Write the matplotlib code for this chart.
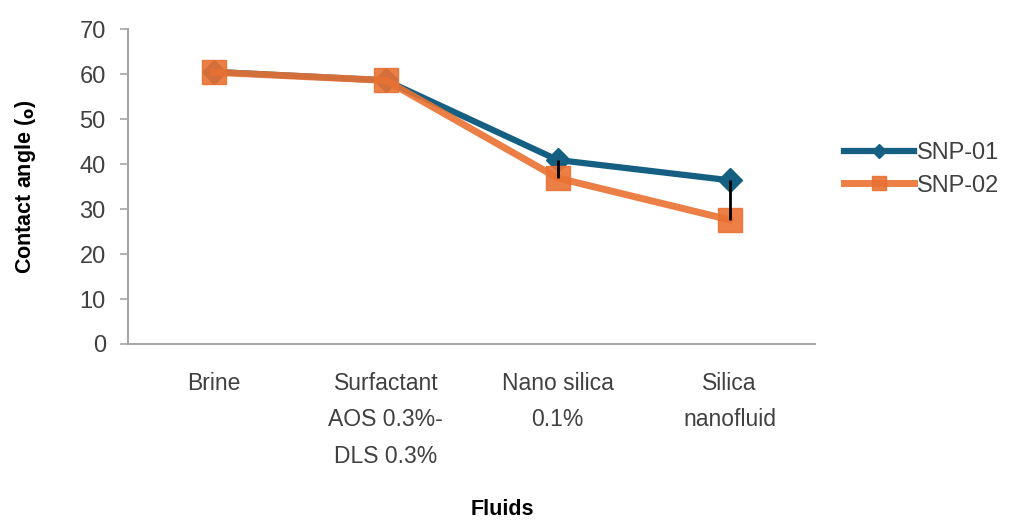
import matplotlib
matplotlib.use("Agg")
import matplotlib.pyplot as plt

# Data
fluids = ["Brine", "Surfactant\nAOS 0.3%-\nDLS 0.3%", "Nano silica\n0.1%", "Silica\nnanofluid"]
snp01 = [60.5, 58.6, 40.9, 36.4]
snp02 = [60.4, 58.6, 36.9, 27.6]

blue = "#156082"
orange = "#E97132"
axis_grey = "#a6a6a6"
text_grey = "#404040"

plt.rcParams['font.family'] = ['Liberation Sans', 'DejaVu Sans']

fig = plt.figure(figsize=(10.2, 5.2), dpi=100)
ax = fig.add_axes([0.1255, 0.3385, 0.674, 0.6055])

x = list(range(len(fluids)))

# high-low lines between the two series
lows = [min(a, b) for a, b in zip(snp01, snp02)]
highs = [max(a, b) for a, b in zip(snp01, snp02)]
ax.vlines(x, lows, highs, color="black", linewidth=2, zorder=5)

ax.plot(x, snp01, color=blue, linewidth=4.5, marker="D", markersize=12,
        label="SNP-01", zorder=3)
ax.plot(x, snp02, color=orange, linewidth=5, marker="s", markersize=17,
        label="SNP-02", zorder=4, alpha=0.9)

ax.set_xlim(-0.5, len(fluids) - 0.5)
ax.set_ylim(0, 70)
ax.set_yticks(range(0, 71, 10))
ax.set_xticks(x)
ax.set_xticklabels(fluids, fontsize=16.5, color=text_grey, linespacing=1.75, va="top")
ax.tick_params(axis="x", length=0, pad=20)
ax.tick_params(axis="y", length=6, width=1.2, color=axis_grey, labelsize=17,
               labelcolor=text_grey, pad=10)

for side in ["top", "right"]:
    ax.spines[side].set_visible(False)
for side in ["left", "bottom"]:
    ax.spines[side].set_color(axis_grey)
    ax.spines[side].set_linewidth(1.5)

ax.set_ylabel(r"Contact angle ($_\mathbf{o}$)", fontsize=15.5, fontweight="bold",
              labelpad=30)
fig.text(0.493, 0.01, "Fluids", fontsize=15.5, fontweight="bold", ha="center")

leg = ax.legend(loc="center left", bbox_to_anchor=(1.01, 0.555), frameon=False,
                fontsize=17, handlelength=3.0, handletextpad=0.1,
                labelspacing=0.45, labelcolor=text_grey, markerscale=0.6)

fig.savefig("out.png", dpi=100)
